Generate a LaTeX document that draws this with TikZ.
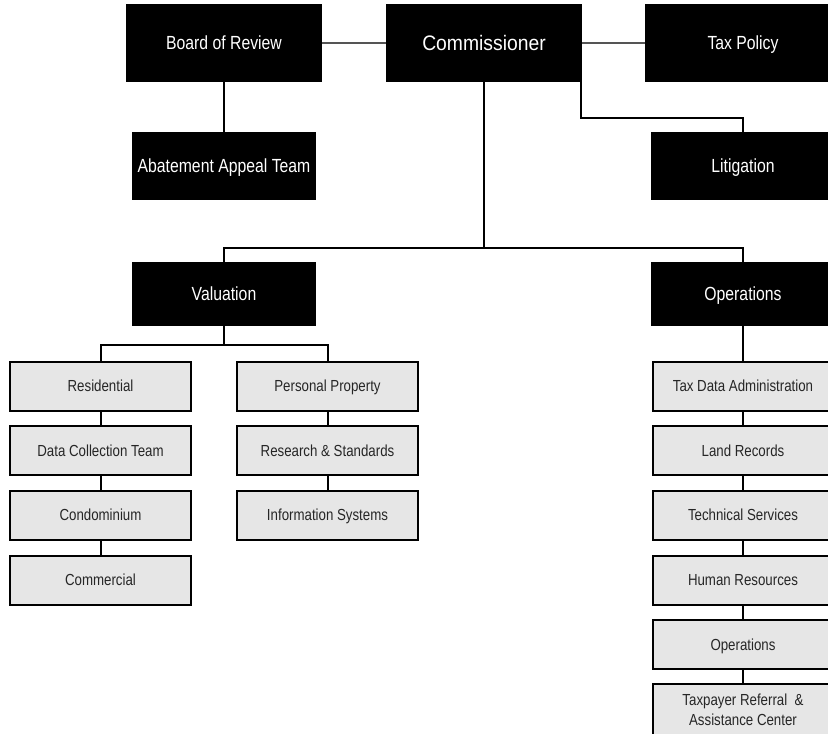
\documentclass[tikz,border=0pt]{standalone}
\usepackage{fontspec}
\setmainfont{Liberation Sans}[FakeStretch=0.83]
\newfontfamily\commfont{Liberation Sans}[FakeStretch=0.92]
\definecolor{boxgray}{HTML}{E6E6E6}
\definecolor{thinline}{HTML}{555555}
\begin{document}
\begin{tikzpicture}[x=1pt,y=-1pt,
  blackbox/.style={rectangle,fill=black,text=white,inner sep=0pt,
    font=\fontsize{19}{22}\selectfont,text height=13.7pt,text depth=0pt},
  topbox/.style={blackbox,minimum width=196pt,minimum height=78pt},
  midbox/.style={blackbox,minimum width=184pt,minimum height=68pt},
  lowbox/.style={blackbox,minimum width=184pt,minimum height=64pt},
  graybase/.style={rectangle,draw=black,line width=2pt,fill=boxgray,inner sep=0pt,
    minimum width=181pt,minimum height=49pt,text=black!85,align=center,
    font=\fontsize{16}{20}\selectfont},
  graybox/.style={graybase,text height=11.6pt,text depth=0pt},
  tree/.style={line width=2pt,black},
  side/.style={line width=1.3pt,thinline}]
\useasboundingbox (0,0) rectangle (828,734);
\clip (0,0) rectangle (828,734);
% top row
\node[topbox] (board) at (224,43) {Board of Review};
\node[topbox,font=\commfont\fontsize{21}{24}\selectfont,text height=15.2pt] (comm) at (484,43) {Commissioner};
\node[topbox] (tax) at (743,43) {Tax Policy};
% second row
\node[midbox] (abate) at (224,166) {Abatement Appeal Team};
\node[midbox] (litig) at (743,166) {Litigation};
% third row
\node[lowbox] (val) at (224,294) {Valuation};
\node[lowbox] (ops) at (743,294) {Operations};
% valuation children
\node[graybox] (res) at (100.5,386) {Residential};
\node[graybox] (data) at (100.5,450.5) {Data Collection Team};
\node[graybox] (condo) at (100.5,515) {Condominium};
\node[graybox] (comm2) at (100.5,580) {Commercial};
\node[graybox] (pers) at (327.5,386) {Personal Property};
\node[graybox] (resstd) at (327.5,450.5) {Research \& Standards};
\node[graybox] (info) at (327.5,515) {Information Systems};
% operations children
\node[graybox] (taxdata) at (743,386) {Tax Data Administration};
\node[graybox] (land) at (743,450.5) {Land Records};
\node[graybox] (tech) at (743,515) {Technical Services};
\node[graybox] (hr) at (743,580) {Human Resources};
\node[graybox] (ops2) at (743,644.5) {Operations};
\node[graybase,minimum height=53pt] (taxpayer) at (743,710) {Taxpayer Referral\ \ \&\\Assistance Center};
% connectors
\draw[side] (board.east) -- (comm.west);
\draw[side] (comm.east) -- (tax.west);
\draw[tree] (board.south) -- (abate.north);
\draw[tree] ([xshift=-1pt]comm.south east) |- (743,118) -- (litig.north);
\coordinate (hub) at (484,248);
\draw[tree] (comm.south) -- (hub);
\draw[tree] (val.north) |- (hub) -| (ops.north);
\coordinate (vhub) at (224,345);
\draw[tree] (val.south) -- (vhub);
\draw[tree] (res.north) |- (vhub) -| (pers.north);
\draw[tree] (res.south) -- (data.north);
\draw[tree] (data.south) -- (condo.north);
\draw[tree] (condo.south) -- (comm2.north);
\draw[tree] (pers.south) -- (resstd.north);
\draw[tree] (resstd.south) -- (info.north);
\draw[tree] (ops.south) -- (taxdata.north);
\draw[tree] (taxdata.south) -- (land.north);
\draw[tree] (land.south) -- (tech.north);
\draw[tree] (tech.south) -- (hr.north);
\draw[tree] (hr.south) -- (ops2.north);
\draw[tree] (ops2.south) -- (taxpayer.north);
\end{tikzpicture}
\end{document}
